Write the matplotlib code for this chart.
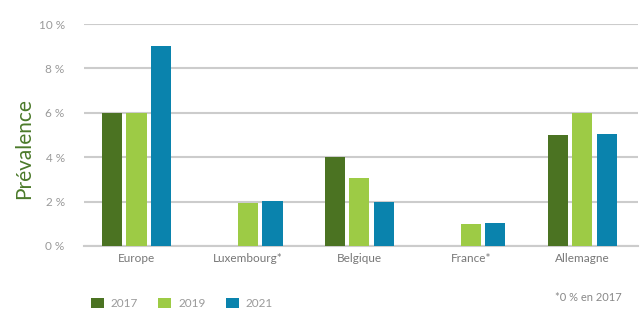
import numpy as np
import matplotlib.pyplot as plt

# données (en %)
pays = ['Europe', 'Luxembourg*', 'Belgique', 'France*', 'Allemagne']
annees = ['2017', '2019', '2021']
val_2017 = [6.0, 0.0, 4.0, 0.0, 5.0]
val_2019 = [6.0, 1.95, 3.06, 1.0, 6.0]
val_2021 = [9.0, 2.03, 2.0, 1.05, 5.05]
ticks_y = [0, 2, 4, 6, 8, 10]

couleurs = ['#4b7322', '#9dcb45', '#0a83ad']
gris = '#9a9a9a'

plt.rcParams['font.family'] = ['Lato', 'DejaVu Sans']

fig = plt.figure(figsize=(6.42, 3.09), dpi=100)
ax = fig.add_axes([0.131, 0.204, 0.863, 0.718])

x = np.arange(len(pays))
largeur = 0.18
pas = 0.22
series = [val_2017, val_2019, val_2021]
for i, (serie, cor, ano) in enumerate(zip(series, couleurs, annees)):
    ax.bar(x + (i - 1) * pas, serie, width=largeur, color=cor, label=ano, zorder=3)

ax.set_xlim(-0.47, len(pays) - 0.5)
ax.set_ylim(0, 10)
ax.set_yticks(ticks_y)
ax.set_yticklabels([f'{t} %' for t in ticks_y])
ax.set_xticks(x)
ax.set_xticklabels(pays)
ax.grid(axis='y', color='#cccccc', linewidth=1.5, zorder=0)
for s in ['top', 'right', 'left']:
    ax.spines[s].set_visible(False)
ax.spines['bottom'].set_color('#cccccc')
ax.spines['bottom'].set_linewidth(1.5)
ax.tick_params(axis='y', length=0, pad=14, labelsize=8.5, labelcolor=gris)
ax.tick_params(axis='x', length=0, pad=5, labelsize=8.5, labelcolor='#777777')

# titre de l'axe y, un peu plus bas que le centre comme dans l'original
fig.text(0.038, 0.52, 'Prévalence', rotation=90, ha='center', va='center',
         fontsize=15, color='#4b7a2a')

fig.legend(loc='lower left', bbox_to_anchor=(0.125, -0.035), ncol=3, frameon=False,
           fontsize=8.5, handlelength=1.1, handleheight=1.0, columnspacing=1.7,
           handletextpad=0.6, labelcolor=gris)

fig.text(0.968, 0.02, '*0 % en 2017', ha='right', va='bottom', fontsize=8, color='#888888')

plt.savefig('out.png', dpi=100)
plt.close()
